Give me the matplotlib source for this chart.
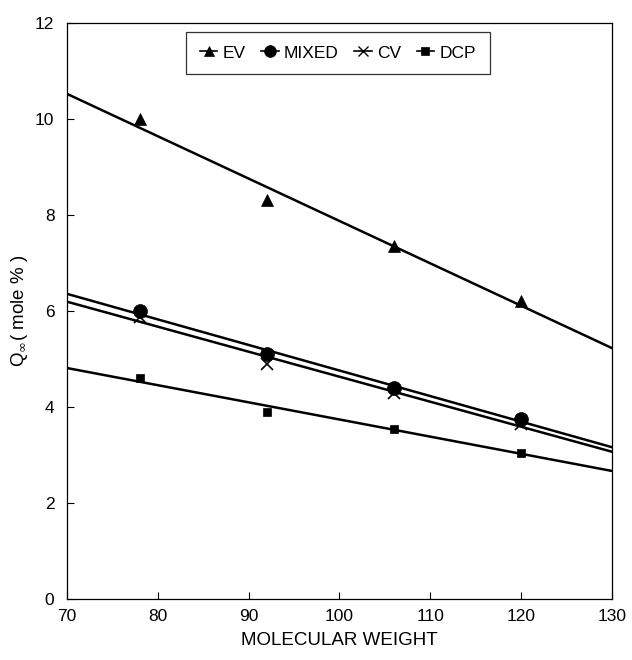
import numpy as np
import matplotlib.pyplot as plt
from matplotlib.lines import Line2D

plt.rcParams['font.family'] = ['Liberation Sans', 'DejaVu Sans']

# data
mol_weight = [78, 92, 106, 120]
ev = [10.0, 8.3, 7.35, 6.2]
mixed = [6.0, 5.1, 4.4, 3.75]
cv = [5.88, 4.9, 4.3, 3.65]
dcp = [4.6, 3.9, 3.55, 3.05]

series = [
    ('EV', ev, '^', 9),
    ('MIXED', mixed, 'o', 10),
    ('CV', cv, 'x', 9),
    ('DCP', dcp, 's', 6),
]

fig = plt.figure(figsize=(6.32, 6.6), dpi=100)
ax = fig.add_axes([0.106, 0.0924, 0.862, 0.873])

xfit = np.array([70, 130])
handles = []
for name, vals, mk, ms in series:
    ax.plot(mol_weight, vals, linestyle='none', marker=mk, markersize=ms,
            color='black', markeredgewidth=1.2 if mk == 'x' else 0.5)
    # least squares line through the points
    p = np.polyfit(mol_weight, vals, 1)
    ax.plot(xfit, np.polyval(p, xfit), color='black', linewidth=1.8)
    handles.append(Line2D([], [], color='black', linewidth=1.2, marker=mk,
                          markersize=ms * 0.85, markeredgewidth=1.0 if mk == 'x' else 0.5,
                          label=name))

ax.set_xlim(70, 130)
ax.set_ylim(0, 12)
ax.set_xticks(range(70, 131, 10))
ax.set_yticks(range(0, 13, 2))
ax.tick_params(direction='in', labelsize=12.5, length=5, width=0.8)
ax.tick_params(axis='x', pad=7)
ax.tick_params(axis='y', pad=9)
ax.set_xlabel('MOLECULAR WEIGHT', fontsize=13.5, labelpad=6)
ax.set_ylabel(r'Q$_{\infty}$( mole % )', fontsize=13.5, labelpad=4)
for s in ax.spines.values():
    s.set_linewidth(0.9)

leg = ax.legend(handles=handles, loc='upper center', bbox_to_anchor=(0.497, 1.0),
                ncol=4, frameon=True, fancybox=False, edgecolor='black',
                fontsize=12.5, handlelength=1.0, handletextpad=0.3, columnspacing=0.9,
                borderpad=0.8)
leg.get_frame().set_linewidth(0.9)

fig.savefig('out.png', dpi=100)
